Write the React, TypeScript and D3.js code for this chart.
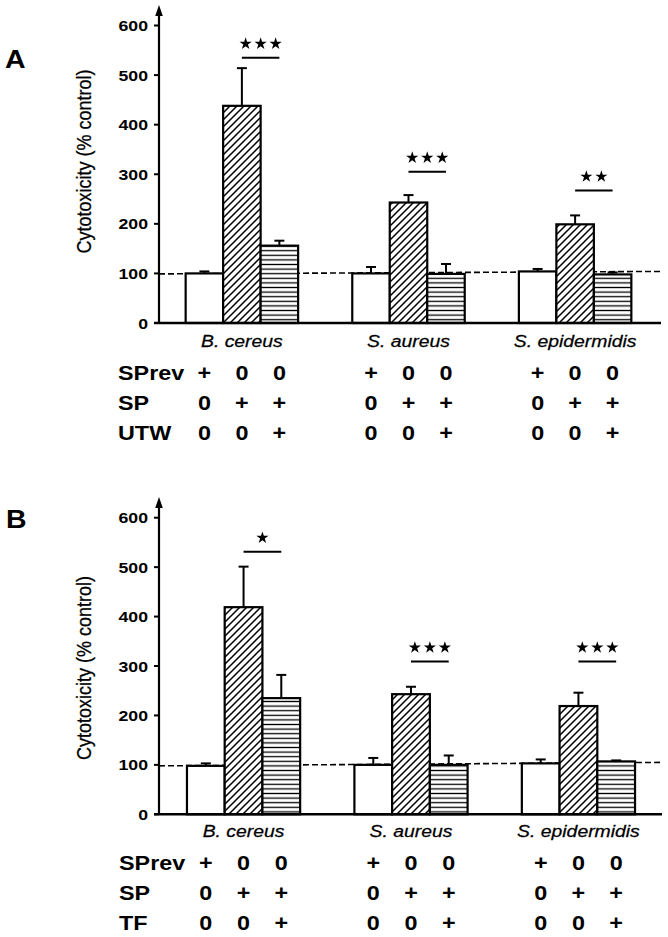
import React from "react";
import * as d3 from "d3";

// ---------- data ----------
const groups = ["B. cereus", "S. aureus", "S. epidermidis"];
const seriesKeys = ["control", "sp", "treated"];

// Panel A (UTW)
const aMeans = {
  control: [100, 100, 104],
  sp: [438, 243, 199],
  treated: [156, 99, 98],
};
const aErrors = {
  control: [4, 13, 5],
  sp: [76, 15, 18],
  treated: [10, 20, 4],
};
const aSigLevel = [535, 305, 267];
const aSigStars = [3, 3, 2];
const aRefLine = [99, 104];
const aRowLabels = ["SPrev", "SP", "UTW"];

// Panel B (TF)
const bMeans = {
  control: [98, 100, 103],
  sp: [419, 243, 219],
  treated: [235, 100, 107],
};
const bErrors = {
  control: [5, 14, 8],
  sp: [82, 15, 27],
  treated: [47, 19, 2],
};
const bSigLevel = [531, 309, 309];
const bSigStars = [1, 3, 3];
const bRefLine = [98, 105];
const bRowLabels = ["SPrev", "SP", "TF"];

const conditionRows = [
  ["+", "0", "0"],
  ["0", "+", "+"],
  ["0", "0", "+"],
];

const yTicks = [0, 100, 200, 300, 400, 500, 600];
const yLabel = "Cytotoxicity (% control)";

// ---------- layout ----------
const FONT = "'Liberation Sans', Arial, Helvetica, sans-serif";
const SX = 1.14;

const panels = [
  {
    letter: "A",
    letterPos: [5, 68],
    means: aMeans,
    errors: aErrors,
    sig: aSigLevel,
    stars: aSigStars,
    ref: aRefLine,
    rows: aRowLabels,
    yZero: 323,
    yTop: 25.5,
    arrowTip: 5,
    xRange: [159, 658],
    pInner: 0.325,
    pOuter: 0.16,
    axisEnd: 661,
    yLabelPos: [84, 161.5],
    speciesY: 346.7,
    rowY: [380, 410, 440],
    rowLabelX: 118,
  },
  {
    letter: "B",
    letterPos: [6, 528],
    means: bMeans,
    errors: bErrors,
    sig: bSigLevel,
    stars: bSigStars,
    ref: bRefLine,
    rows: bRowLabels,
    yZero: 814.3,
    yTop: 517.7,
    arrowTip: 497,
    xRange: [159, 663],
    pInner: 0.324,
    pOuter: 0.167,
    axisEnd: 662,
    yLabelPos: [84, 668],
    speciesY: 837.3,
    rowY: [870, 900, 929.5],
    rowLabelX: 119,
  },
];

const starPath = d3.symbol(d3.symbolStar, 46)() as string;

function Panel({ p }: { p: any }) {
  const y = d3.scaleLinear().domain([0, 600]).range([p.yZero, p.yTop]);
  const xg = d3
    .scaleBand<string>()
    .domain(groups)
    .range(p.xRange)
    .paddingInner(p.pInner)
    .paddingOuter(p.pOuter);
  const xs = d3
    .scaleBand<string>()
    .domain(seriesKeys)
    .range([0, xg.bandwidth()])
    .padding(0);
  const axisX = p.xRange[0];
  const bw = xs.bandwidth();
  const fills: Record<string, string> = {
    control: "#fff",
    sp: "url(#diag)",
    treated: "url(#horiz)",
  };

  return (
    <g>
      {/* panel letter */}
      <text
        transform={`translate(${p.letterPos[0]},${p.letterPos[1]}) scale(${SX},1)`}
        fontFamily={FONT}
        fontWeight="bold"
        fontSize={25}
      >
        {p.letter}
      </text>

      {/* y label */}
      <text
        transform={`translate(${p.yLabelPos[0]},${p.yLabelPos[1]}) scale(${SX},1) rotate(-90)`}
        fontFamily={FONT}
        fontSize={18}
        textAnchor="middle"
        dy="0.35em"
        stroke="#000"
        strokeWidth={0.25}
      >
        {yLabel}
      </text>

      {/* reference dashed line */}
      <line
        x1={axisX}
        x2={p.axisEnd}
        y1={y(p.ref[0])}
        y2={y(p.ref[1])}
        stroke="#000"
        strokeWidth={1.6}
        strokeDasharray="6,3"
      />

      {/* bars */}
      {groups.map((g, gi) =>
        seriesKeys.map((s) => {
          const x0 = (xg(g) as number) + (xs(s) as number);
          const v = p.means[s][gi];
          const e = p.errors[s][gi];
          const cx = x0 + bw / 2;
          return (
            <g key={g + s}>
              <line x1={cx} x2={cx} y1={y(v)} y2={y(v + e)} stroke="#000" strokeWidth={2} />
              <line x1={cx - 5} x2={cx + 5} y1={y(v + e)} y2={y(v + e)} stroke="#000" strokeWidth={2} />
              <rect x={x0} y={y(v)} width={bw} height={p.yZero - y(v)} fill="#fff" />
              <rect
                x={x0}
                y={y(v)}
                width={bw}
                height={p.yZero - y(v)}
                fill={fills[s]}
                stroke="#000"
                strokeWidth={2.2}
              />
            </g>
          );
        })
      )}

      {/* significance */}
      {groups.map((g, gi) => {
        const xa = (xg(g) as number) + (xs("sp") as number) + bw / 2;
        const xb = (xg(g) as number) + (xs("treated") as number) + bw / 2;
        const ly = y(p.sig[gi]);
        const mid = (xa + xb) / 2;
        const n = p.stars[gi];
        return (
          <g key={"sig" + g}>
            <line x1={xa} x2={xb} y1={ly} y2={ly} stroke="#000" strokeWidth={2} />
            {d3.range(n).map((k) => (
              <path
                key={k}
                d={starPath}
                transform={`translate(${mid + (k - (n - 1) / 2) * 15},${ly - 14})`}
                fill="#000"
              />
            ))}
          </g>
        );
      })}

      {/* y axis */}
      <line x1={axisX} x2={axisX} y1={p.yZero} y2={p.arrowTip + 6} stroke="#000" strokeWidth={2.2} />
      <path
        d={`M${axisX},${p.arrowTip} L${axisX + 3.8},${p.arrowTip + 11} L${axisX - 3.8},${p.arrowTip + 11} Z`}
        fill="#000"
      />
      {yTicks.map((t) => (
        <g key={t}>
          <line x1={axisX - 5} x2={axisX} y1={y(t)} y2={y(t)} stroke="#000" strokeWidth={2} />
          <text
            transform={`translate(${axisX - 11},${y(t)}) scale(${SX},1)`}
            fontFamily={FONT}
            fontWeight="bold"
            fontSize={15.5}
            textAnchor="end"
            dy="0.36em"
          >
            {t}
          </text>
        </g>
      ))}
      {/* x axis */}
      <line x1={axisX - 5} x2={p.axisEnd} y1={p.yZero} y2={p.yZero} stroke="#000" strokeWidth={2.4} />

      {/* species labels */}
      {groups.map((g) => (
        <text
          key={"sp" + g}
          transform={`translate(${(xg(g) as number) + xg.bandwidth() / 2},${p.speciesY}) scale(${SX},1)`}
          fontFamily={FONT}
          fontStyle="italic"
          fontSize={17}
          textAnchor="middle"
          stroke="#000"
          strokeWidth={0.25}
        >
          {g}
        </text>
      ))}

      {/* condition table */}
      {p.rows.map((r: string, ri: number) => (
        <g key={"row" + r}>
          <text
            transform={`translate(${p.rowLabelX},${p.rowY[ri]}) scale(${SX},1)`}
            fontFamily={FONT}
            fontWeight="bold"
            fontSize={20.5}
          >
            {r}
          </text>
          {groups.map((g) =>
            seriesKeys.map((s, si) => (
              <text
                key={g + s}
                transform={`translate(${(xg(g) as number) + (xs(s) as number) + bw / 2},${p.rowY[ri]}) scale(${SX},1)`}
                fontFamily={FONT}
                fontWeight="bold"
                fontSize={20.5}
                textAnchor="middle"
              >
                {conditionRows[ri][si]}
              </text>
            ))
          )}
        </g>
      ))}
    </g>
  );
}

export default function App() {
  return (
    <svg
      width={668}
      height={937}
      style={{ position: "absolute", left: 0, top: 0, background: "#fff" }}
    >
      <defs>
        <pattern id="diag" patternUnits="userSpaceOnUse" width={7} height={7}>
          <rect width={7} height={7} fill="#fff" />
          <path d="M-1,1 l2,-2 M0,7 l7,-7 M6,8 l2,-2" stroke="#000" strokeWidth={1.5} />
        </pattern>
        <pattern id="horiz" patternUnits="userSpaceOnUse" width={10} height={4.6}>
          <rect width={10} height={4.6} fill="#fff" />
          <line x1={0} x2={10} y1={2.3} y2={2.3} stroke="#000" strokeWidth={1.3} />
        </pattern>
      </defs>
      <rect width={668} height={937} fill="#fff" />
      {panels.map((p) => (
        <Panel key={p.letter} p={p} />
      ))}
    </svg>
  );
}
